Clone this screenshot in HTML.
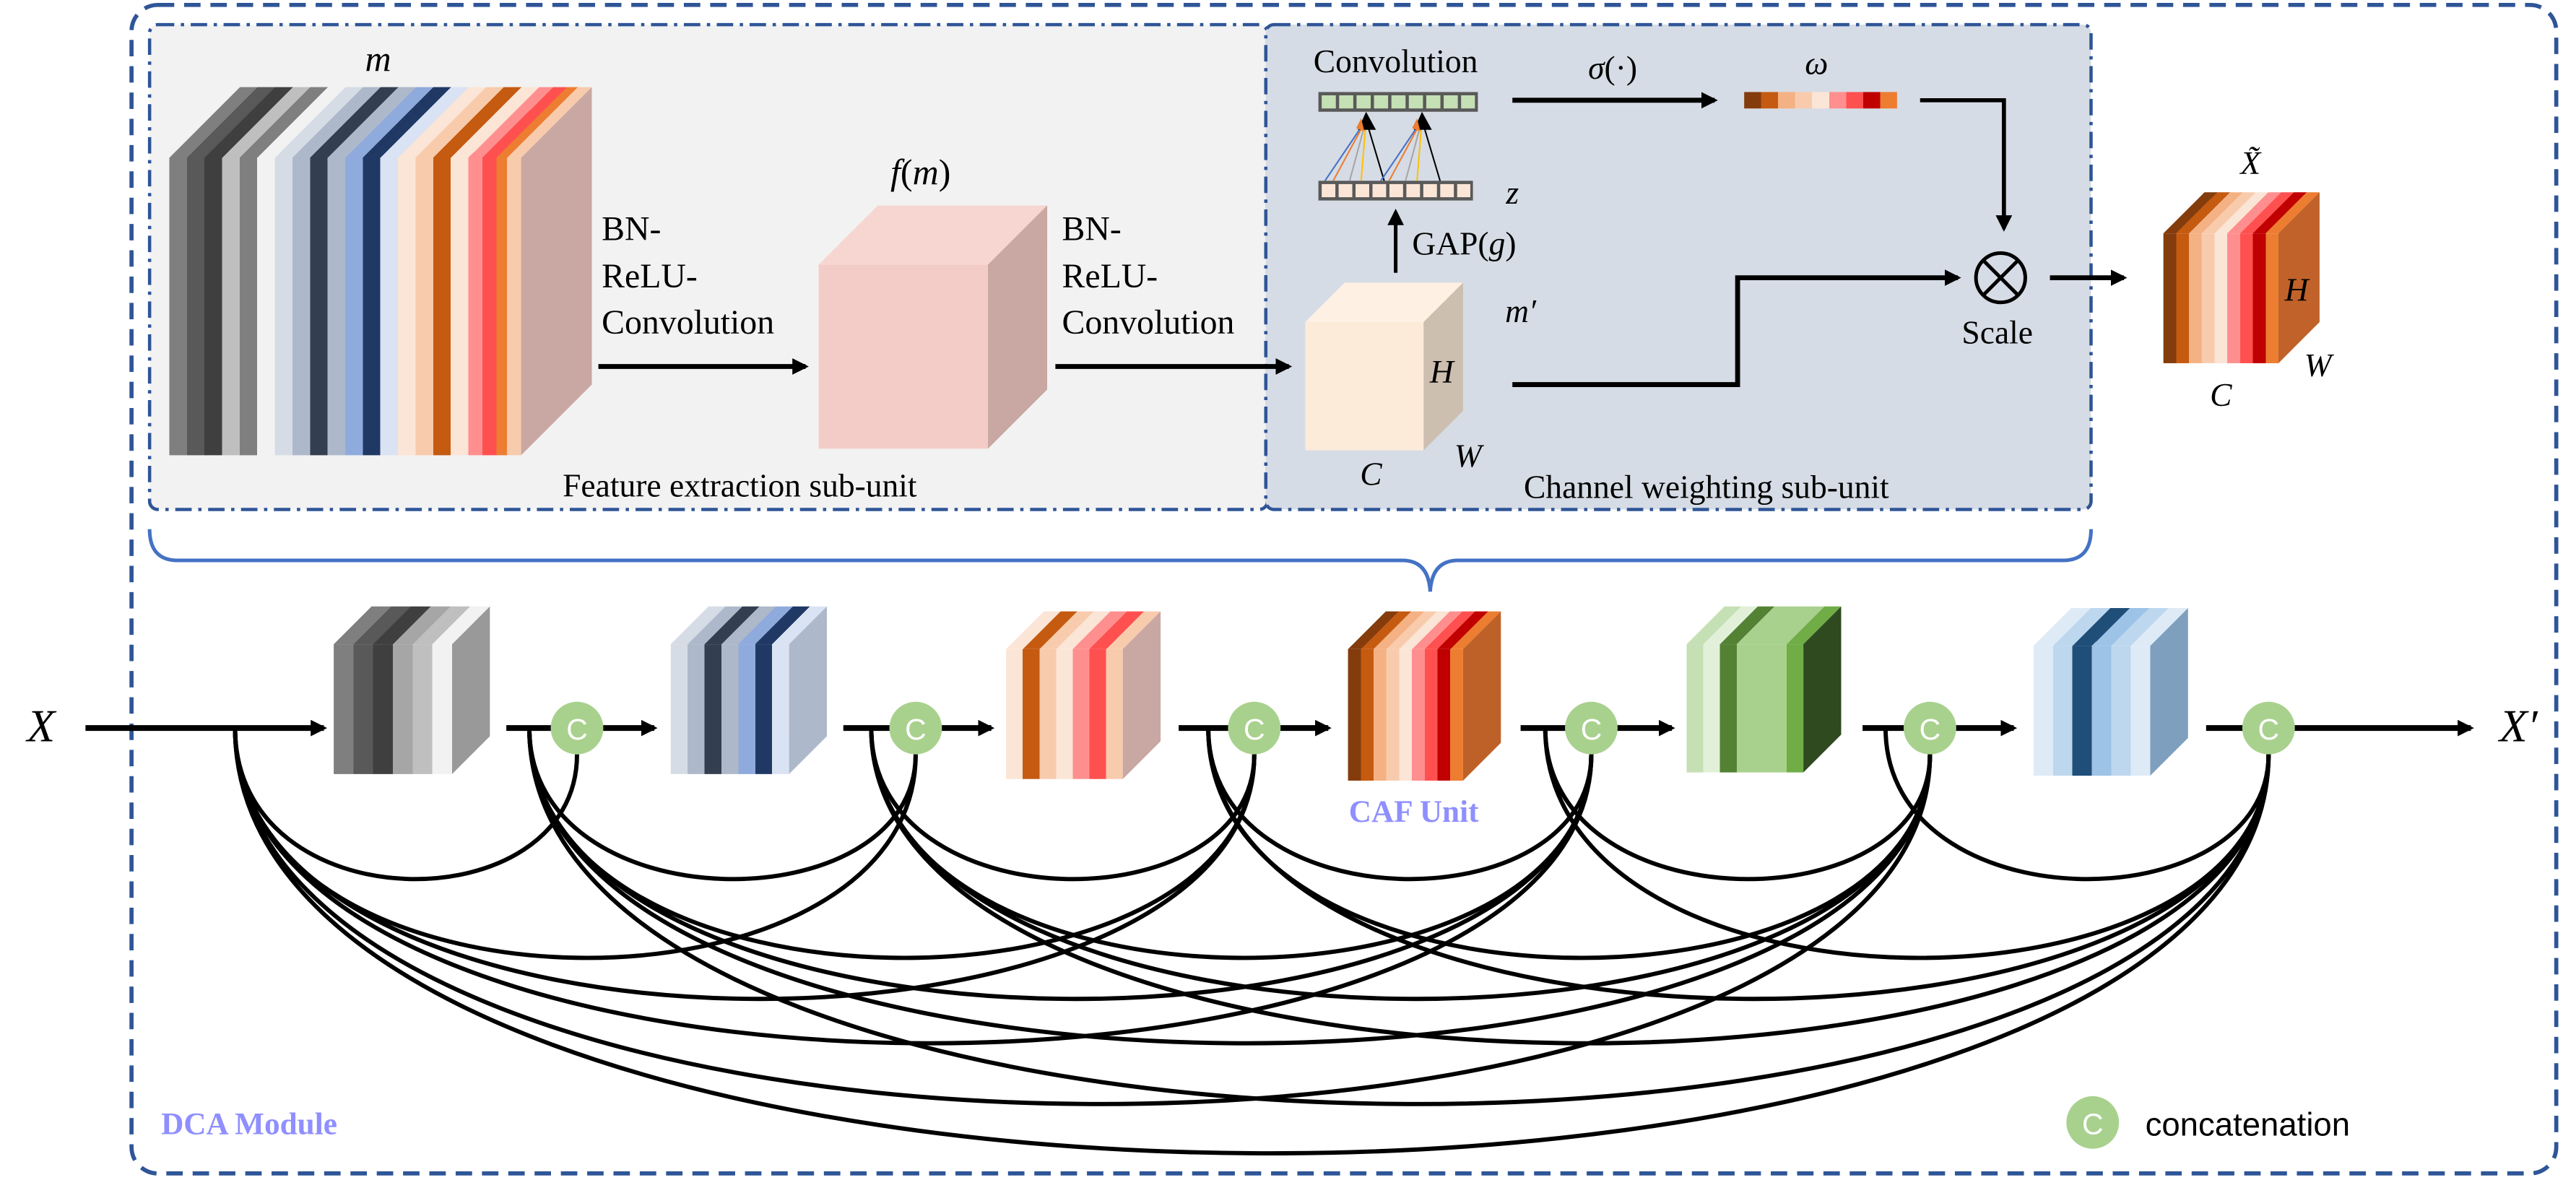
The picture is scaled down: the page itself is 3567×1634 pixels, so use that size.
<!DOCTYPE html>
<html><head><meta charset="utf-8">
<style>
html,body{margin:0;padding:0;background:#fff;}
svg{display:block;}
</style></head>
<body>
<svg xmlns="http://www.w3.org/2000/svg" width="3567" height="1634" viewBox="0 0 1567 718" preserveAspectRatio="none">
<defs>
<marker id="ah" markerWidth="10" markerHeight="10" refX="8" refY="5" orient="auto" markerUnits="userSpaceOnUse">
<path d="M0,0 L10,5 L0,10 z" fill="#000"/>
</marker>
<linearGradient id="gM" x1="0" y1="0" x2="1" y2="0">
<stop offset="0" stop-color="#7F7F7F"/><stop offset=".05" stop-color="#7F7F7F"/>
<stop offset=".05" stop-color="#595959"/><stop offset=".10" stop-color="#595959"/>
<stop offset=".10" stop-color="#3F3F3F"/><stop offset=".15" stop-color="#3F3F3F"/>
<stop offset=".15" stop-color="#BFBFBF"/><stop offset=".20" stop-color="#BFBFBF"/>
<stop offset=".20" stop-color="#7F7F7F"/><stop offset=".25" stop-color="#7F7F7F"/>
<stop offset=".25" stop-color="#F2F2F2"/><stop offset=".30" stop-color="#F2F2F2"/>
<stop offset=".30" stop-color="#D6DCE5"/><stop offset=".35" stop-color="#D6DCE5"/>
<stop offset=".35" stop-color="#ADB9CA"/><stop offset=".40" stop-color="#ADB9CA"/>
<stop offset=".40" stop-color="#333F50"/><stop offset=".45" stop-color="#333F50"/>
<stop offset=".45" stop-color="#ADB9CA"/><stop offset=".50" stop-color="#ADB9CA"/>
<stop offset=".50" stop-color="#8FAADC"/><stop offset=".55" stop-color="#8FAADC"/>
<stop offset=".55" stop-color="#203864"/><stop offset=".60" stop-color="#203864"/>
<stop offset=".60" stop-color="#DAE3F3"/><stop offset=".65" stop-color="#DAE3F3"/>
<stop offset=".65" stop-color="#FBE5D6"/><stop offset=".70" stop-color="#FBE5D6"/>
<stop offset=".70" stop-color="#F8CBAD"/><stop offset=".75" stop-color="#F8CBAD"/>
<stop offset=".75" stop-color="#C55A11"/><stop offset=".80" stop-color="#C55A11"/>
<stop offset=".80" stop-color="#FBE5D6"/><stop offset=".85" stop-color="#FBE5D6"/>
<stop offset=".85" stop-color="#FF8F8F"/><stop offset=".89" stop-color="#FF8F8F"/>
<stop offset=".89" stop-color="#FF5050"/><stop offset=".93" stop-color="#FF5050"/>
<stop offset=".93" stop-color="#ED7D31"/><stop offset=".96" stop-color="#ED7D31"/>
<stop offset=".96" stop-color="#F8CBAD"/><stop offset="1" stop-color="#F8CBAD"/>
</linearGradient>
<linearGradient id="gR" x1="0" y1="0" x2="1" y2="0">
<stop offset="0" stop-color="#843C0C"/><stop offset=".111" stop-color="#843C0C"/>
<stop offset=".111" stop-color="#C55A11"/><stop offset=".222" stop-color="#C55A11"/>
<stop offset=".222" stop-color="#F4B183"/><stop offset=".333" stop-color="#F4B183"/>
<stop offset=".333" stop-color="#F8CBAD"/><stop offset=".444" stop-color="#F8CBAD"/>
<stop offset=".444" stop-color="#FBE5D6"/><stop offset=".556" stop-color="#FBE5D6"/>
<stop offset=".556" stop-color="#FF8F8F"/><stop offset=".667" stop-color="#FF8F8F"/>
<stop offset=".667" stop-color="#FF5050"/><stop offset=".778" stop-color="#FF5050"/>
<stop offset=".778" stop-color="#C00000"/><stop offset=".889" stop-color="#C00000"/>
<stop offset=".889" stop-color="#ED7D31"/><stop offset="1" stop-color="#ED7D31"/>
</linearGradient>
<linearGradient id="g1" x1="0" y1="0" x2="1" y2="0">
<stop offset="0" stop-color="#7F7F7F"/><stop offset=".167" stop-color="#7F7F7F"/>
<stop offset=".167" stop-color="#595959"/><stop offset=".333" stop-color="#595959"/>
<stop offset=".333" stop-color="#3F3F3F"/><stop offset=".5" stop-color="#3F3F3F"/>
<stop offset=".5" stop-color="#A6A6A6"/><stop offset=".667" stop-color="#A6A6A6"/>
<stop offset=".667" stop-color="#BFBFBF"/><stop offset=".833" stop-color="#BFBFBF"/>
<stop offset=".833" stop-color="#F2F2F2"/><stop offset="1" stop-color="#F2F2F2"/>
</linearGradient>
<linearGradient id="g2" x1="0" y1="0" x2="1" y2="0">
<stop offset="0" stop-color="#D6DCE5"/><stop offset=".143" stop-color="#D6DCE5"/>
<stop offset=".143" stop-color="#ADB9CA"/><stop offset=".286" stop-color="#ADB9CA"/>
<stop offset=".286" stop-color="#333F50"/><stop offset=".429" stop-color="#333F50"/>
<stop offset=".429" stop-color="#ADB9CA"/><stop offset=".571" stop-color="#ADB9CA"/>
<stop offset=".571" stop-color="#8FAADC"/><stop offset=".714" stop-color="#8FAADC"/>
<stop offset=".714" stop-color="#203864"/><stop offset=".857" stop-color="#203864"/>
<stop offset=".857" stop-color="#DAE3F3"/><stop offset="1" stop-color="#DAE3F3"/>
</linearGradient>
<linearGradient id="g3" x1="0" y1="0" x2="1" y2="0">
<stop offset="0" stop-color="#FBE5D6"/><stop offset=".143" stop-color="#FBE5D6"/>
<stop offset=".143" stop-color="#C55A11"/><stop offset=".286" stop-color="#C55A11"/>
<stop offset=".286" stop-color="#F8CBAD"/><stop offset=".429" stop-color="#F8CBAD"/>
<stop offset=".429" stop-color="#FBE5D6"/><stop offset=".571" stop-color="#FBE5D6"/>
<stop offset=".571" stop-color="#FF8F8F"/><stop offset=".714" stop-color="#FF8F8F"/>
<stop offset=".714" stop-color="#FF5050"/><stop offset=".857" stop-color="#FF5050"/>
<stop offset=".857" stop-color="#F8CBAD"/><stop offset="1" stop-color="#F8CBAD"/>
</linearGradient>
<linearGradient id="g5" x1="0" y1="0" x2="1" y2="0">
<stop offset="0" stop-color="#C5E0B4"/><stop offset=".143" stop-color="#C5E0B4"/>
<stop offset=".143" stop-color="#E2F0D9"/><stop offset=".286" stop-color="#E2F0D9"/>
<stop offset=".286" stop-color="#548235"/><stop offset=".429" stop-color="#548235"/>
<stop offset=".429" stop-color="#A9D18E"/><stop offset=".857" stop-color="#A9D18E"/>
<stop offset=".857" stop-color="#70AD47"/><stop offset="1" stop-color="#70AD47"/>
</linearGradient>
<linearGradient id="g6" x1="0" y1="0" x2="1" y2="0">
<stop offset="0" stop-color="#DEEBF7"/><stop offset=".167" stop-color="#DEEBF7"/>
<stop offset=".167" stop-color="#BDD7EE"/><stop offset=".333" stop-color="#BDD7EE"/>
<stop offset=".333" stop-color="#1F4E79"/><stop offset=".5" stop-color="#1F4E79"/>
<stop offset=".5" stop-color="#9DC3E6"/><stop offset=".667" stop-color="#9DC3E6"/>
<stop offset=".667" stop-color="#BDD7EE"/><stop offset=".833" stop-color="#BDD7EE"/>
<stop offset=".833" stop-color="#DEEBF7"/><stop offset="1" stop-color="#DEEBF7"/>
</linearGradient>
</defs>

<!-- outer module -->
<rect x="80" y="3" width="1475" height="711" rx="16" fill="none" stroke="#2F5597" stroke-width="2.5" stroke-dasharray="10 6"/>
<rect x="91" y="15" width="680" height="295" rx="5" fill="#F2F2F2" stroke="#2F5597" stroke-width="2" stroke-dasharray="10 4 2 4"/>
<rect x="770" y="15" width="502" height="295" rx="5" fill="#D6DCE5" stroke="#2F5597" stroke-width="2" stroke-dasharray="10 4 2 4"/>
<path d="M91 322 Q91 341 108 341 L853 341 Q869 341 870 360 Q871 341 887 341 L1255 341 Q1272 341 1272 322" fill="none" stroke="#4472C4" stroke-width="2.2"/>

<!-- big stack m -->
<rect x="103" y="96" width="214" height="181" fill="url(#gM)"/>
<rect x="0" y="0" width="214" height="1" fill="url(#gM)" transform="matrix(1,0,43,-43,103,96)"/>
<polygon points="317,96 360,53 360,234 317,277" fill="#C9A7A2"/>
<!-- f(m) -->
<rect x="498" y="161" width="103" height="112" fill="#F4CCC7"/>
<polygon points="498,161 534,125 637,125 601,161" fill="#F7D6D1"/>
<polygon points="601,161 637,125 637,237 601,273" fill="#C9A7A2"/>
<!-- m' -->
<rect x="794" y="196" width="72" height="78" fill="#FDEBD9"/>
<polygon points="794,196 818,172 890,172 866,196" fill="#FEF0E2"/>
<polygon points="866,196 890,172 890,250 866,274" fill="#CDBFB0"/>
<!-- X tilde -->
<rect x="1316" y="142" width="70" height="79" fill="url(#gR)"/>
<rect x="0" y="0" width="70" height="1" fill="url(#gR)" transform="matrix(1,0,25,-25,1316,142)"/>
<polygon points="1386,142 1411,117 1411,196 1386,221" fill="#C0622A"/>

<!-- small cubes -->
<rect x="203" y="392" width="72" height="79" fill="url(#g1)"/>
<rect x="0" y="0" width="72" height="1" fill="url(#g1)" transform="matrix(1,0,23,-23,203,392)"/>
<polygon points="275,392 298,369 298,448 275,471" fill="#999999"/>

<rect x="408" y="392" width="72" height="79" fill="url(#g2)"/>
<rect x="0" y="0" width="72" height="1" fill="url(#g2)" transform="matrix(1,0,23,-23,408,392)"/>
<polygon points="480,392 503,369 503,448 480,471" fill="#ADB9CA"/>

<rect x="612" y="395" width="71" height="79" fill="url(#g3)"/>
<rect x="0" y="0" width="71" height="1" fill="url(#g3)" transform="matrix(1,0,23,-23,612,395)"/>
<polygon points="683,395 706,372 706,451 683,474" fill="#C9A7A2"/>

<rect x="820" y="395" width="70" height="80" fill="url(#gR)"/>
<rect x="0" y="0" width="70" height="1" fill="url(#gR)" transform="matrix(1,0,23,-23,820,395)"/>
<polygon points="890,395 913,372 913,452 890,475" fill="#BE6128"/>

<rect x="1026" y="392" width="71" height="78" fill="url(#g5)"/>
<rect x="0" y="0" width="71" height="1" fill="url(#g5)" transform="matrix(1,0,23,-23,1026,392)"/>
<polygon points="1097,392 1120,369 1120,447 1097,470" fill="#2E4A1E"/>

<rect x="1237" y="393" width="71" height="79" fill="url(#g6)"/>
<rect x="0" y="0" width="71" height="1" fill="url(#g6)" transform="matrix(1,0,23,-23,1237,393)"/>
<polygon points="1308,393 1331,370 1331,449 1308,472" fill="#7F9FBF"/>

<!-- omega bar -->
<rect x="1061" y="56" width="93" height="10" fill="url(#gR)"/>

<!-- conv bars -->
<rect x="802" y="56" width="97" height="12" fill="#595959"/>
<g fill="#C5E0B4">
<rect x="804" y="58" width="8.6" height="8"/><rect x="814.6" y="58" width="8.6" height="8"/><rect x="825.2" y="58" width="8.6" height="8"/><rect x="835.8" y="58" width="8.6" height="8"/><rect x="846.4" y="58" width="8.6" height="8"/><rect x="857" y="58" width="8.6" height="8"/><rect x="867.6" y="58" width="8.6" height="8"/><rect x="878.2" y="58" width="8.6" height="8"/><rect x="888.8" y="58" width="8.4" height="8"/>
</g>
<rect x="802" y="110" width="94" height="12" fill="#595959"/>
<g fill="#FBE5D6">
<rect x="804" y="112" width="8.3" height="8"/><rect x="814.3" y="112" width="8.3" height="8"/><rect x="824.6" y="112" width="8.3" height="8"/><rect x="834.9" y="112" width="8.3" height="8"/><rect x="845.2" y="112" width="8.3" height="8"/><rect x="855.5" y="112" width="8.3" height="8"/><rect x="865.8" y="112" width="8.3" height="8"/><rect x="876.1" y="112" width="8.3" height="8"/><rect x="886.4" y="112" width="8" height="8"/>
</g>
<g stroke-width="0.9">
<line x1="806" y1="110" x2="831" y2="73" stroke="#4472C4"/><line x1="811" y1="110" x2="831" y2="73" stroke="#ED7D31"/><line x1="821" y1="110" x2="831" y2="73" stroke="#A5A5A5"/><line x1="828" y1="110" x2="831" y2="73" stroke="#FFC000"/><line x1="842" y1="110" x2="831" y2="73" stroke="#000"/>
<line x1="840" y1="110" x2="865" y2="73" stroke="#4472C4"/><line x1="845" y1="110" x2="865" y2="73" stroke="#ED7D31"/><line x1="855" y1="110" x2="865" y2="73" stroke="#A5A5A5"/><line x1="862" y1="110" x2="865" y2="73" stroke="#FFC000"/><line x1="876" y1="110" x2="865" y2="73" stroke="#000"/>
</g>
<polygon points="826,79 831,68 837,79" fill="#000"/>
<polygon points="860,79 865,68 871,79" fill="#000"/>
<polygon points="825,78 828,72 830,80" fill="#ED7D31"/>
<polygon points="859,78 862,72 864,80" fill="#ED7D31"/>

<!-- top arrows -->
<g stroke="#000" stroke-width="3" fill="none">
<line x1="364" y1="223" x2="490" y2="223" marker-end="url(#ah)"/>
<line x1="642" y1="223" x2="784" y2="223" marker-end="url(#ah)"/>
<line x1="920" y1="61" x2="1043" y2="61" marker-end="url(#ah)"/>
<polyline points="1168,61 1219,61 1219,139" stroke-width="2.5" marker-end="url(#ah)"/>
<line x1="849" y1="166" x2="849" y2="129" stroke-width="2.2" marker-end="url(#ah)"/>
<polyline points="920,234 1057,234 1057,169 1191,169" marker-end="url(#ah)"/>
<line x1="1247" y1="169" x2="1292" y2="169" marker-end="url(#ah)"/>
</g>
<circle cx="1217" cy="169" r="15" fill="none" stroke="#000" stroke-width="2.2"/>
<line x1="1206.4" y1="158.4" x2="1227.6" y2="179.6" stroke="#000" stroke-width="2.2"/>
<line x1="1227.6" y1="158.4" x2="1206.4" y2="179.6" stroke="#000" stroke-width="2.2"/>

<!-- main line -->
<g stroke="#000" stroke-width="3.5" fill="none">
<line x1="52" y1="443" x2="197" y2="443" marker-end="url(#ah)"/>
<line x1="308" y1="443" x2="340" y2="443"/><line x1="362" y1="443" x2="398" y2="443" marker-end="url(#ah)"/>
<line x1="513" y1="443" x2="546" y2="443"/><line x1="568" y1="443" x2="603" y2="443" marker-end="url(#ah)"/>
<line x1="717" y1="443" x2="752" y2="443"/><line x1="774" y1="443" x2="808" y2="443" marker-end="url(#ah)"/>
<line x1="925" y1="443" x2="957" y2="443"/><line x1="979" y1="443" x2="1017" y2="443" marker-end="url(#ah)"/>
<line x1="1133" y1="443" x2="1163" y2="443"/><line x1="1185" y1="443" x2="1225" y2="443" marker-end="url(#ah)"/>
<line x1="1342" y1="443" x2="1369" y2="443"/><line x1="1391" y1="443" x2="1503" y2="443" marker-end="url(#ah)"/>
</g>

<!-- dense arcs -->
<g fill="none" stroke="#000" stroke-width="2.6">
<path d="M143 443 C143 562.7 351 562.7 351 459"/>
<path d="M143 443 C143 626.7 557 626.7 557 459"/>
<path d="M143 443 C143 660 763 660 763 459"/>
<path d="M143 443 C143 696 968 696 968 459"/>
<path d="M143 443 C143 745.3 1174 745.3 1174 459"/>
<path d="M143 443 C143 785.3 1380 785.3 1380 459"/>
<path d="M322 443 C322 562.7 557 562.7 557 459"/>
<path d="M322 443 C322 626.7 763 626.7 763 459"/>
<path d="M322 443 C322 660 968 660 968 459"/>
<path d="M322 443 C322 696 1174 696 1174 459"/>
<path d="M322 443 C322 745.3 1380 745.3 1380 459"/>
<path d="M530 443 C530 562.7 763 562.7 763 459"/>
<path d="M530 443 C530 626.7 968 626.7 968 459"/>
<path d="M530 443 C530 660 1174 660 1174 459"/>
<path d="M530 443 C530 696 1380 696 1380 459"/>
<path d="M735 443 C735 562.7 968 562.7 968 459"/>
<path d="M735 443 C735 626.7 1174 626.7 1174 459"/>
<path d="M735 443 C735 660 1380 660 1380 459"/>
<path d="M940 443 C940 562.7 1174 562.7 1174 459"/>
<path d="M940 443 C940 626.7 1380 626.7 1380 459"/>
<path d="M1147 443 C1147 562.7 1380 562.7 1380 459"/>
</g>

<!-- concat circles -->
<g fill="#A9D18E">
<circle cx="351" cy="443" r="16"/><circle cx="557" cy="443" r="16"/><circle cx="763" cy="443" r="16"/><circle cx="968" cy="443" r="16"/><circle cx="1174" cy="443" r="16"/><circle cx="1380" cy="443" r="16"/>
<circle cx="1273" cy="683" r="16"/>
</g>
<g font-family="Liberation Sans, sans-serif" font-size="18" fill="#fff" text-anchor="middle">
<text x="351" y="450">C</text><text x="557" y="450">C</text><text x="763" y="450">C</text><text x="968" y="450">C</text><text x="1174" y="450">C</text><text x="1380" y="450">C</text>
<text x="1273" y="690">C</text>
</g>

<!-- text -->
<g font-family="Liberation Serif, serif" fill="#000">
<text x="230" y="43" font-size="22" font-style="italic" text-anchor="middle">m</text>
<text x="560" y="112" font-size="22" text-anchor="middle"><tspan font-style="italic">f</tspan>(<tspan font-style="italic">m</tspan>)</text>
<text x="366" y="146" font-size="21">BN-</text>
<text x="366" y="175" font-size="21">ReLU-</text>
<text x="366" y="203" font-size="21">Convolution</text>
<text x="646" y="146" font-size="21">BN-</text>
<text x="646" y="175" font-size="21">ReLU-</text>
<text x="646" y="203" font-size="21">Convolution</text>
<text x="450" y="302" font-size="20" text-anchor="middle">Feature extraction sub-unit</text>
<text x="1038" y="303" font-size="20" text-anchor="middle">Channel weighting sub-unit</text>
<text x="849" y="44" font-size="20" text-anchor="middle">Convolution</text>
<text x="981" y="48" font-size="20" text-anchor="middle"><tspan font-style="italic">σ</tspan>(·)</text>
<text x="1105" y="45" font-size="20" font-style="italic" text-anchor="middle">ω</text>
<text x="920" y="124" font-size="20" font-style="italic" text-anchor="middle">z</text>
<text x="859" y="155" font-size="20">GAP(<tspan font-style="italic">g</tspan>)</text>
<text x="925" y="196" font-size="20" font-style="italic" text-anchor="middle">m′</text>
<text x="877" y="233" font-size="20" font-style="italic" text-anchor="middle">H</text>
<text x="834" y="295" font-size="20" font-style="italic" text-anchor="middle">C</text>
<text x="893" y="284" font-size="20" font-style="italic" text-anchor="middle">W</text>
<text x="1215" y="209" font-size="20" text-anchor="middle">Scale</text>
<text x="1369" y="106" font-size="20" font-style="italic" text-anchor="middle">X̃</text>
<text x="1397" y="183" font-size="20" font-style="italic" text-anchor="middle">H</text>
<text x="1410" y="229" font-size="20" font-style="italic" text-anchor="middle">W</text>
<text x="1351" y="247" font-size="20" font-style="italic" text-anchor="middle">C</text>
<text x="25" y="451" font-size="28" font-style="italic" text-anchor="middle">X</text>
<text x="1532" y="451" font-size="28" font-style="italic" text-anchor="middle">X′</text>
<text x="860" y="500" font-weight="bold" font-size="19" fill="#8F8FFF" text-anchor="middle">CAF Unit</text>
<text x="98" y="690" font-weight="bold" font-size="19" fill="#8F8FFF">DCA Module</text>
</g>
<text x="1305" y="691" font-family="Liberation Sans, sans-serif" font-size="20" fill="#000">concatenation</text>
</svg>
</body></html>
